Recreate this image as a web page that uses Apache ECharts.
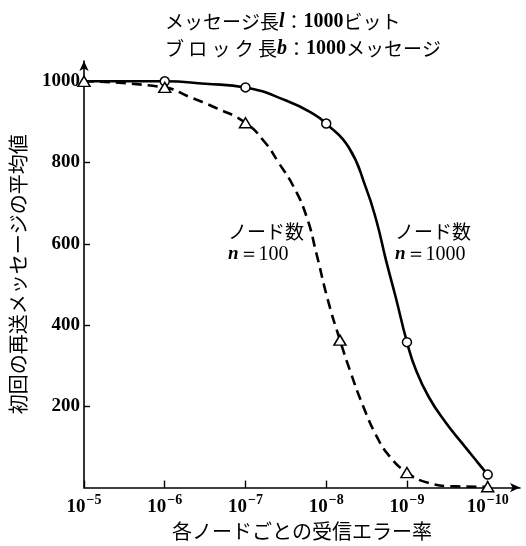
<!DOCTYPE html>
<html><head><meta charset="utf-8">
<script src="https://cdn.jsdelivr.net/npm/echarts@6/dist/echarts.min.js"></script>
<style>html,body{margin:0;padding:0;background:#fff}#c{width:526px;height:546px}</style>
</head><body><div id="c"></div>
<script>
// x value = k, where the error rate is 10^-k
const xTickExps = [5, 6, 7, 8, 9, 10];
const yTicks = [200, 400, 600, 800, 1000];

// n = 1000 (solid line, circles)
const curve1000Exp = [5, 6, 6.5, 7, 7.51, 7.84, 8, 8.28, 8.49, 8.62, 8.74, 8.86, 9, 9.11, 9.27, 9.48, 9.68, 9.88, 10];
const curve1000Val = [1000, 1000, 994, 985, 952, 920, 896, 837, 739, 658, 560, 469, 358, 290, 223, 160, 110, 61, 32];
const mark1000Exp = [6, 7, 8, 9, 10];
const mark1000Val = [1000, 985, 896, 358, 32];

// n = 100 (dashed line, triangles)
const curve100Exp = [5, 6, 6.3, 6.63, 7, 7.24, 7.4, 7.6, 7.76, 7.88, 8.02, 8.17, 8.3, 8.46, 8.62, 8.78, 9, 9.26, 9.6, 10];
const curve100Val = [1000, 985, 962, 935, 898, 850, 803, 739, 665, 575, 462, 363, 285, 199, 128, 78, 37, 12, 3, 2];
const mark100Exp = [5, 6, 7, 8.17, 9, 10];
const mark100Val = [1000, 985, 898, 363, 37, 2];

const titleLine1 = ['メッセージ長', 'l', '：', '1000', 'ビット'];
const titleLine2 = ['ブ ロ ッ ク 長', 'b', '：', '1000', 'メッセージ'];
const xName = '各ノードごとの受信エラー率';
const yName = '初回の再送メッセージの平均値';
const label100 = ['ノード数', 'n', '＝100'];
const label1000 = ['ノード数', 'n', '＝1000'];

const zip = (a, b) => a.map((v, i) => [v, b[i]]);
const JP = '"Noto Sans CJK JP", sans-serif';
const SERIF = '"Liberation Serif", "DejaVu Serif", serif';

const titleRich = {
  jp: { fontFamily: JP, fontSize: 19, fontWeight: 'normal', color: '#000' },
  it: { fontFamily: SERIF, fontStyle: 'italic', fontWeight: 'bold', fontSize: 20, color: '#000' },
  num: { fontFamily: SERIF, fontWeight: 'bold', fontSize: 20, color: '#000' }
};
const mkTitle = (p) => `{jp|${p[0]}}{it|${p[1]}}{jp|${p[2]}}{num|${p[3]}}{jp|${p[4]}}`;

const annRich = {
  jp: { fontFamily: JP, fontSize: 19, color: '#000', lineHeight: 23 },
  it: { fontFamily: SERIF, fontStyle: 'italic', fontWeight: 'bold', fontSize: 19, color: '#000', lineHeight: 23 },
  num: { fontFamily: SERIF, fontSize: 20, color: '#000', lineHeight: 23 }
};
const mkAnn = (p) => `{jp|${p[0]}}\n{it|${p[1]}}{num|${p[2]}}`;

const chart = echarts.init(document.getElementById('c'), null, { renderer: 'canvas' });
chart.setOption({
  animation: false,
  backgroundColor: '#fff',
  title: [
    { text: mkTitle(titleLine1), left: 160, top: 7, textStyle: { fontWeight: 'normal', rich: titleRich } },
    { text: mkTitle(titleLine2), left: 160, top: 34, textStyle: { fontWeight: 'normal', rich: titleRich } }
  ],
  grid: { left: 78, right: 6, top: 61, bottom: 58, containLabel: false },
  xAxis: {
    type: 'value', min: 5, max: 10.4, interval: 1,
    name: xName, nameLocation: 'middle', nameGap: 30,
    nameTextStyle: { fontFamily: JP, fontSize: 20, color: '#000' },
    axisLine: { lineStyle: { color: '#000', width: 1.6 }, symbol: ['none', 'arrow'], symbolSize: [7, 10] },
    axisTick: { inside: true, length: 7, lineStyle: { color: '#000', width: 1.4 }, customValues: xTickExps },
    axisLabel: {
      customValues: xTickExps,
      margin: 6,
      formatter: (v) => `{b|10}{s|−${v}}`,
      rich: {
        b: { fontFamily: SERIF, fontWeight: 'bold', fontSize: 19, color: '#000' },
        s: { fontFamily: SERIF, fontWeight: 'bold', fontSize: 14, color: '#000', padding: [0, 0, 12, 1] }
      }
    },
    splitLine: { show: false }
  },
  yAxis: {
    type: 'value', min: 0, max: 1050, interval: 200,
    name: yName, nameLocation: 'middle', nameGap: 56,
    nameTextStyle: { fontFamily: JP, fontSize: 20, color: '#000' },
    axisLine: { lineStyle: { color: '#000', width: 1.6 }, symbol: ['none', 'arrow'], symbolSize: [7, 10] },
    axisTick: { inside: true, length: 6, lineStyle: { color: '#000', width: 1.4 }, customValues: yTicks },
    axisLabel: {
      customValues: yTicks, margin: 4,
      formatter: (v) => String(v),
      fontFamily: SERIF, fontWeight: 'bold', fontSize: 19, color: '#000'
    },
    splitLine: { show: false }
  },
  graphic: [
    { type: 'text', left: 228, top: 222, style: { text: mkAnn(label100), rich: annRich, align: 'left' } },
    { type: 'text', left: 395, top: 222, style: { text: mkAnn(label1000), rich: annRich, align: 'left' } }
  ],
  series: [
    {
      type: 'line', data: zip(curve1000Exp, curve1000Val), showSymbol: false, smooth: 0.5,
      lineStyle: { color: '#000', width: 2.6 }, z: 2
    },
    {
      type: 'line', data: zip(curve100Exp, curve100Val), showSymbol: false, smooth: 0.5,
      lineStyle: { color: '#000', width: 2.6, type: [10, 6] }, z: 2
    },
    {
      type: 'scatter', data: zip(mark1000Exp, mark1000Val), symbol: 'circle', symbolSize: 9,
      itemStyle: { color: '#fff', borderColor: '#000', borderWidth: 1.5, opacity: 1 }, z: 5
    },
    {
      type: 'scatter', data: zip(mark100Exp, mark100Val), symbol: 'triangle', symbolSize: [12, 10],
      itemStyle: { color: '#fff', borderColor: '#000', borderWidth: 1.5, opacity: 1 }, z: 5
    }
  ]
});
</script></body></html>
